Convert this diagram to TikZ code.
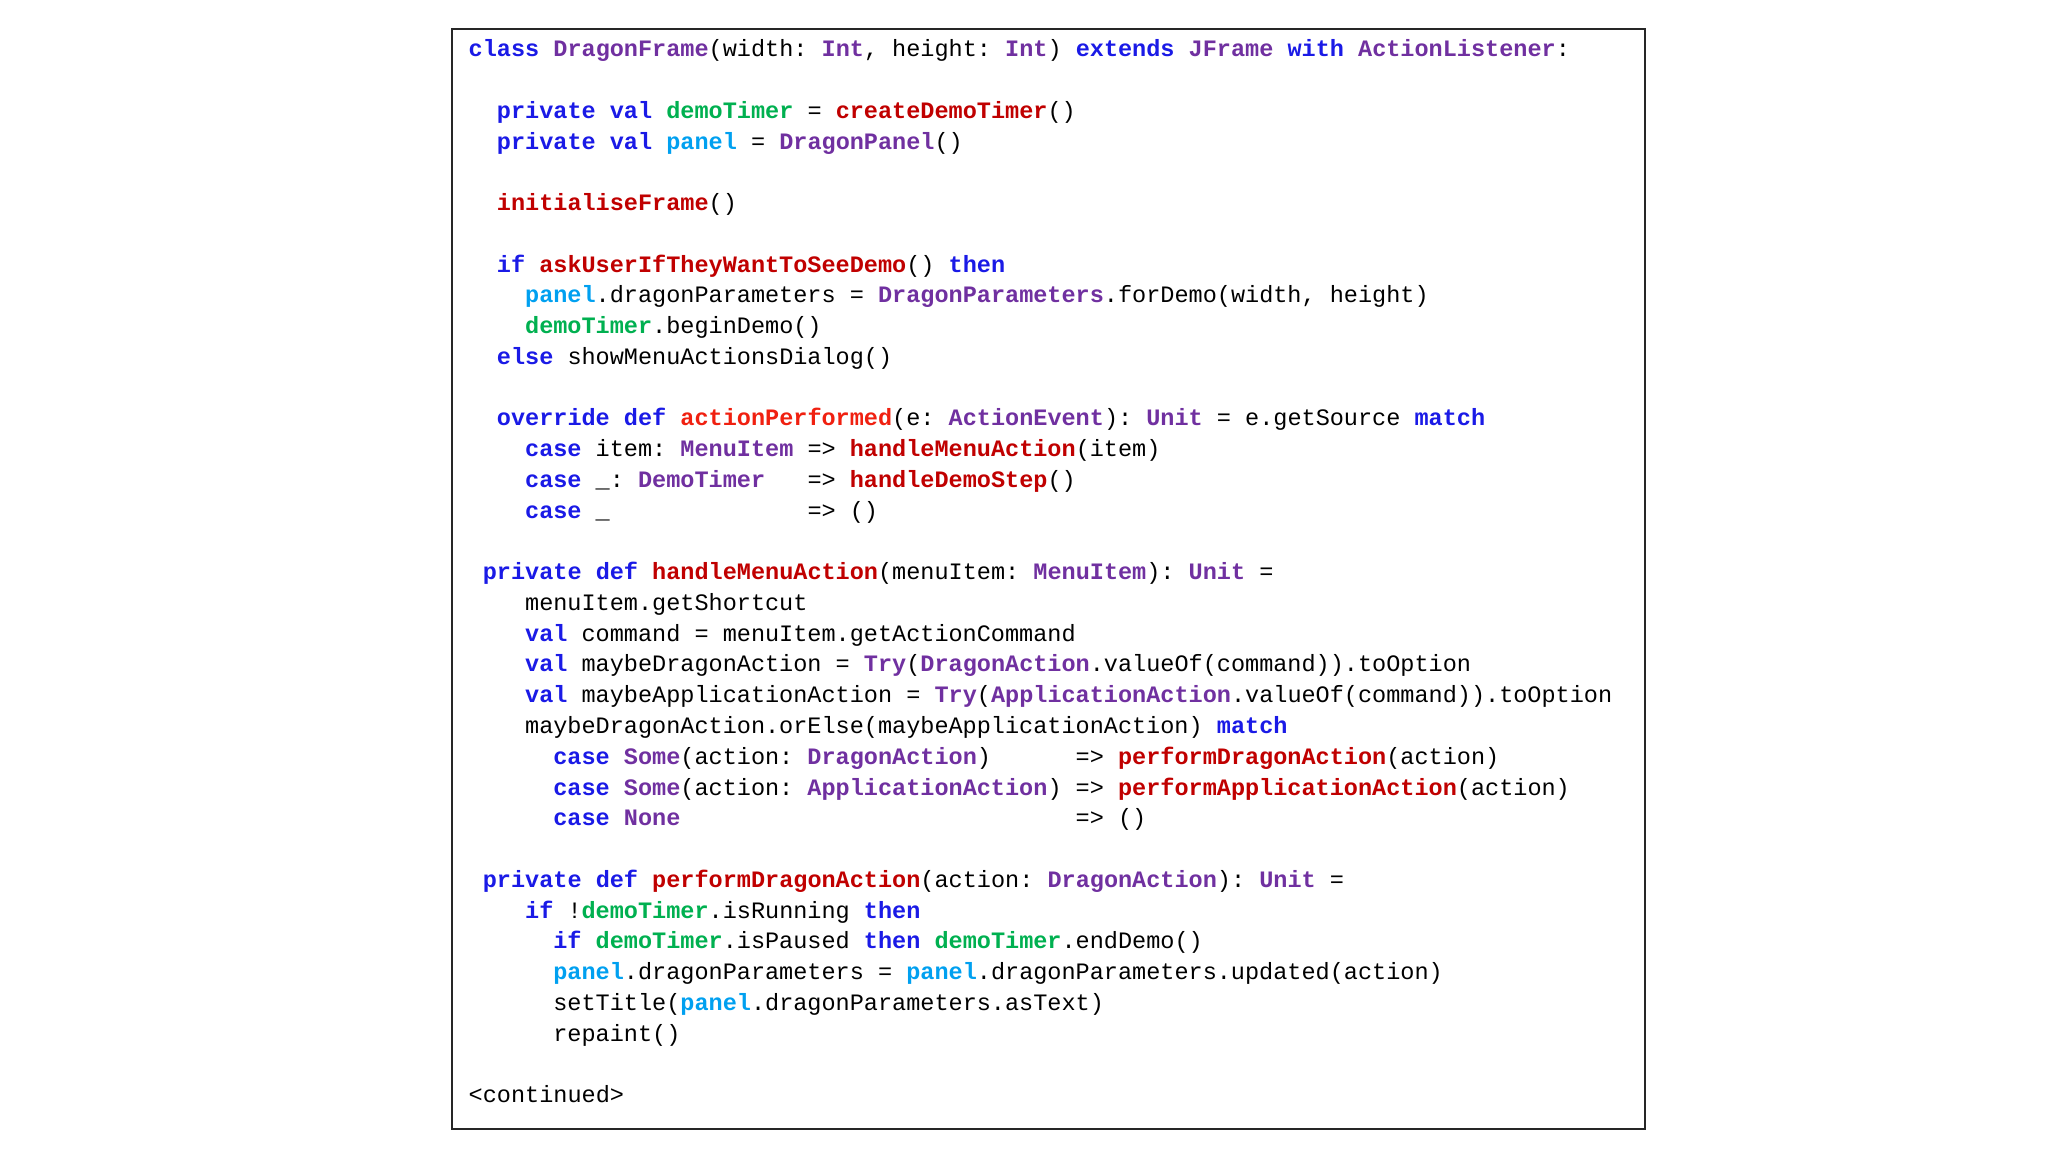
\documentclass[tikz,border=0pt]{standalone}
\usepackage{fontspec}
\setmonofont{Liberation Mono}
\definecolor{kw}{HTML}{1A1AE6}
\definecolor{ty}{HTML}{7030A0}
\definecolor{fn}{HTML}{C00000}
\definecolor{fa}{HTML}{F02010}
\definecolor{gr}{HTML}{00B050}
\definecolor{lb}{HTML}{00A0F0}
\newcommand\K[1]{\textcolor{kw}{\bfseries #1}}
\newcommand\T[1]{\textcolor{ty}{\bfseries #1}}
\newcommand\F[1]{\textcolor{fn}{\bfseries #1}}
\newcommand\FA[1]{\textcolor{fa}{\bfseries #1}}
\newcommand\G[1]{\textcolor{gr}{\bfseries #1}}
\newcommand\PL[1]{\textcolor{lb}{\bfseries #1}}
\begin{document}
\begin{tikzpicture}[x=0.01cm,y=-0.01cm,
  code/.style={anchor=base west,inner sep=0pt,font=\ttfamily\fontsize{6.69pt}{8pt}\selectfont}]
\useasboundingbox (0,0) rectangle (2048,1152);
\draw[line width=0.7pt,black!85] (452,29) rectangle (1645,1129);
\def\cw{14.11}
\def\ls{30.75}
\newcommand\Ln[3]{\node[code] (l#1) at ({468+#2*\cw},{57+#1*\ls}) {#3};}
\Ln{0}{0}{\K{class} \T{DragonFrame}(width: \T{Int}, height: \T{Int}) \K{extends} \T{JFrame} \K{with} \T{ActionListener}:}
\Ln{2}{2}{\K{private} \K{val} \G{demoTimer} = \F{createDemoTimer}()}
\Ln{3}{2}{\K{private} \K{val} \PL{panel} = \T{DragonPanel}()}
\Ln{5}{2}{\F{initialiseFrame}()}
\Ln{7}{2}{\K{if} \F{askUserIfTheyWantToSeeDemo}() \K{then}}
\Ln{8}{4}{\PL{panel}.dragonParameters = \T{DragonParameters}.forDemo(width, height)}
\Ln{9}{4}{\G{demoTimer}.beginDemo()}
\Ln{10}{2}{\K{else} showMenuActionsDialog()}
\Ln{12}{2}{\K{override} \K{def} \FA{actionPerformed}(e: \T{ActionEvent}): \T{Unit} = e.getSource \K{match}}
\Ln{13}{4}{\K{case} item: \T{MenuItem} => \F{handleMenuAction}(item)}
\Ln{14}{4}{\K{case} \_: \T{DemoTimer}~~~=> \F{handleDemoStep}()}
\Ln{15}{4}{\K{case} \_~~~~~~~~~~~~~~=> ()}
\Ln{17}{1}{\K{private} \K{def} \F{handleMenuAction}(menuItem: \T{MenuItem}): \T{Unit} =}
\Ln{18}{4}{menuItem.getShortcut}
\Ln{19}{4}{\K{val} command = menuItem.getActionCommand}
\Ln{20}{4}{\K{val} maybeDragonAction = \T{Try}(\T{DragonAction}.valueOf(command)).toOption}
\Ln{21}{4}{\K{val} maybeApplicationAction = \T{Try}(\T{ApplicationAction}.valueOf(command)).toOption}
\Ln{22}{4}{maybeDragonAction.orElse(maybeApplicationAction) \K{match}}
\Ln{23}{6}{\K{case} \T{Some}(action: \T{DragonAction})~~~~~~=> \F{performDragonAction}(action)}
\Ln{24}{6}{\K{case} \T{Some}(action: \T{ApplicationAction}) => \F{performApplicationAction}(action)}
\Ln{25}{6}{\K{case} \T{None}~~~~~~~~~~~~~~~~~~~~~~~~~~~~=> ()}
\Ln{27}{1}{\K{private} \K{def} \F{performDragonAction}(action: \T{DragonAction}): \T{Unit} =}
\Ln{28}{4}{\K{if} !\G{demoTimer}.isRunning \K{then}}
\Ln{29}{6}{\K{if} \G{demoTimer}.isPaused \K{then} \G{demoTimer}.endDemo()}
\Ln{30}{6}{\PL{panel}.dragonParameters = \PL{panel}.dragonParameters.updated(action)}
\Ln{31}{6}{setTitle(\PL{panel}.dragonParameters.asText)}
\Ln{32}{6}{repaint()}
\Ln{34}{0}{<continued>}
\end{tikzpicture}
\end{document}
